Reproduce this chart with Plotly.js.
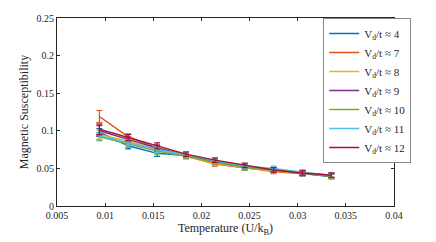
<!DOCTYPE html>
<html>
<head>
<meta charset="utf-8">
<script src="https://cdn.plot.ly/plotly-3.0.1.min.js"></script>
<style>html,body{margin:0;padding:0;background:#fff;}#chart{width:436px;height:242px;}</style>
</head>
<body>
<div id="chart"></div>
<script>
const temperature = [0.0094, 0.0124, 0.0154, 0.0184, 0.0214, 0.0245, 0.0275, 0.0305, 0.0335];
const seriesNames = ['V<sub>d</sub>/t ≈ 4', 'V<sub>d</sub>/t ≈ 7', 'V<sub>d</sub>/t ≈ 8', 'V<sub>d</sub>/t ≈ 9', 'V<sub>d</sub>/t ≈ 10', 'V<sub>d</sub>/t ≈ 11', 'V<sub>d</sub>/t ≈ 12'];
const chi_V4  = [0.098, 0.080, 0.070, 0.067, 0.058, 0.051, 0.048, 0.043, 0.039];
const chi_V7  = [0.119, 0.092, 0.077, 0.066, 0.056, 0.051, 0.046, 0.043, 0.040];
const chi_V8  = [0.095, 0.086, 0.075, 0.066, 0.057, 0.051, 0.047, 0.044, 0.040];
const chi_V9  = [0.100, 0.088, 0.077, 0.068, 0.059, 0.053, 0.048, 0.044, 0.041];
const chi_V10 = [0.092, 0.082, 0.073, 0.066, 0.058, 0.051, 0.048, 0.044, 0.040];
const chi_V11 = [0.093, 0.084, 0.075, 0.068, 0.060, 0.053, 0.050, 0.045, 0.041];
const chi_V12 = [0.102, 0.091, 0.080, 0.069, 0.061, 0.054, 0.048, 0.044, 0.041];
const err_V4  = [0.005, 0.004, 0.004, 0.003, 0.003, 0.003, 0.003, 0.003, 0.003];
const err_V7  = [0.008, 0.004, 0.004, 0.003, 0.003, 0.003, 0.003, 0.003, 0.003];
const err_V8  = [0.006, 0.004, 0.004, 0.003, 0.003, 0.003, 0.003, 0.003, 0.003];
const err_V9  = [0.007, 0.004, 0.004, 0.003, 0.003, 0.003, 0.003, 0.003, 0.003];
const err_V10 = [0.005, 0.004, 0.004, 0.003, 0.003, 0.003, 0.003, 0.003, 0.003];
const err_V11 = [0.005, 0.004, 0.004, 0.003, 0.003, 0.003, 0.003, 0.003, 0.003];
const err_V12 = [0.007, 0.004, 0.004, 0.003, 0.003, 0.003, 0.003, 0.003, 0.003];
const colors = ['#0072BD', '#D95319', '#EDB120', '#7E2F8E', '#77AC30', '#4DBEEE', '#A2142F'];
const allY = [chi_V4, chi_V7, chi_V8, chi_V9, chi_V10, chi_V11, chi_V12];
const allE = [err_V4, err_V7, err_V8, err_V9, err_V10, err_V11, err_V12];

const traces = allY.map((y, i) => ({
  x: temperature, y: y, name: seriesNames[i], type: 'scatter', mode: 'lines',
  line: {color: colors[i], width: 1.5},
  error_y: {type: 'data', array: allE[i], visible: true, color: colors[i], thickness: 1.2, width: 3}
}));

const fam = '"Liberation Serif", "Times New Roman", serif';
const layout = {
  width: 436, height: 242,
  margin: {l: 57, r: 42, t: 18, b: 36},
  paper_bgcolor: '#fff', plot_bgcolor: '#fff',
  font: {family: fam, color: '#262626', size: 10},
  showlegend: true,
  legend: {x: 0.79, y: 1.0, xanchor: 'left', yanchor: 'top', bordercolor: '#888', borderwidth: 1, bgcolor: '#fff',
    font: {family: fam, size: 11, color: '#262626'}, tracegroupgap: 0, itemwidth: 30},
  xaxis: {range: [0.005, 0.04], dtick: 0.005, tick0: 0.005, showgrid: false, zeroline: false,
    showline: true, linecolor: '#262626', linewidth: 1, mirror: 'ticks', ticks: 'inside', ticklen: 3, tickcolor: '#262626',
    tickfont: {family: fam, size: 10, color: '#262626'},
    title: {text: 'Temperature (U/k<sub>B</sub>)', font: {family: fam, size: 12, color: '#262626'}, standoff: 3}},
  yaxis: {range: [0, 0.25], dtick: 0.05, showgrid: false, zeroline: false,
    showline: true, linecolor: '#262626', linewidth: 1, mirror: 'ticks', ticks: 'inside', ticklen: 3, tickcolor: '#262626',
    tickfont: {family: fam, size: 10, color: '#262626'},
    title: {text: 'Magnetic Susceptibility', font: {family: fam, size: 12, color: '#262626'}, standoff: 5}}
};
Plotly.newPlot('chart', traces, layout, {displayModeBar: false, staticPlot: true});
</script>
</body>
</html>
